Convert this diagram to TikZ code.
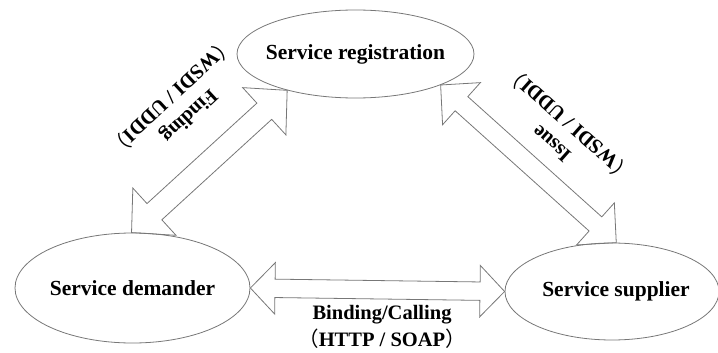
\documentclass[tikz,border=0pt]{standalone}
\usepackage{fontspec}
\setmainfont{Liberation Serif}
\newfontfamily\cjk{Noto Sans CJK SC}
\usetikzlibrary{shapes.geometric,calc}
\definecolor{edgegray}{HTML}{777777}
% full-width brackets
\newcommand\fwlp{{\cjk\mdseries （}}
\newcommand\fwrp{{\cjk\mdseries ）}}
% hollow two-headed block arrow between two points:
% #1,#2 tips, #3 shaft half-width, #4 head half-width, #5 head length
\newcommand\blockarrow[5]{%
  \path ($(#1)!#5!(#2)$) coordinate (bh1) ($(#2)!#5!(#1)$) coordinate (bh2);
  \draw[blockline] (#1) -- ($(bh1)!#4!90:(#2)$) -- ($(bh1)!#3!90:(#2)$)
    -- ($(bh2)!#3!-90:(#1)$) -- ($(bh2)!#4!-90:(#1)$) -- (#2)
    -- ($(bh2)!#4!90:(#1)$) -- ($(bh2)!#3!90:(#1)$)
    -- ($(bh1)!#3!-90:(#2)$) -- ($(bh1)!#4!-90:(#2)$) -- cycle;
}
\begin{document}
\begin{tikzpicture}[x=1pt,y=1pt,
  role/.style={ellipse, draw=edgegray, line width=0.8pt, inner sep=0pt},
  rolefont/.style={font=\fontsize{21.5}{26}\selectfont\bfseries, inner sep=0pt},
  tag/.style={font=\fontsize{20.5}{27}\selectfont\bfseries, align=center, inner sep=0pt},
  blockline/.style={draw=edgegray, line width=0.8pt, line join=miter}]
\useasboundingbox (0,0) rectangle (718,-353);

% the three roles
\node[role, minimum width=237pt, minimum height=88pt,
      label={[rolefont]center:Service registration}] (reg) at (355.5,-54) {};
\node[role, minimum width=235pt, minimum height=110pt,
      label={[rolefont]center:Service demander}] (dem) at (132.5,-288) {};
\node[role, minimum width=214pt, minimum height=97pt,
      label={[rolefont, xshift=4pt]center:Service supplier}] (sup) at (612,-291.5) {};

% interactions
\blockarrow{dem.91}{reg.208}{11pt}{32pt}{31pt}
\blockarrow{reg.340}{sup.85}{9.5pt}{28.3pt}{28pt}
\blockarrow{dem.east}{sup.west}{9.2pt}{25.7pt}{24.6pt}

% interaction labels
\node[tag, rotate=222.9] (findlbl) at (180,-106) {Finding\\\fwlp WSDI / UDDI\fwrp};
\node[tag, rotate=138.4] (issuelbl) at (561,-133) {Issue\\\fwlp WSDI / UDDI\fwrp};
\node[tag] (bindlbl) at (382,-327) {Binding/Calling\\\fwlp HTTP / SOAP\fwrp};
\end{tikzpicture}
\end{document}
